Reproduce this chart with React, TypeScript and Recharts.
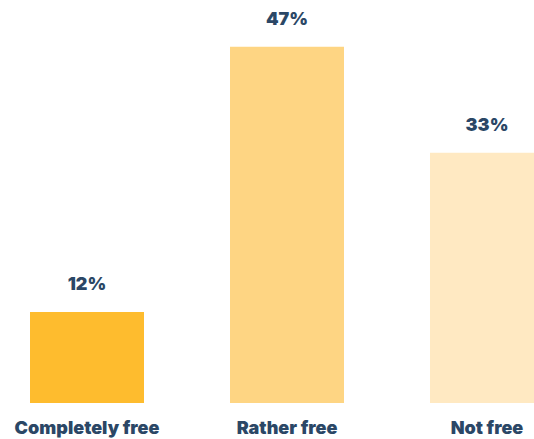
import { BarChart, Bar, XAxis, YAxis, Cell, LabelList } from "recharts"

const categories = ["Completely free", "Rather free", "Not free"]
const shares = [12, 47, 33]
const barColors = ["#FEBC2E", "#FED583", "#FFE9C2"]

const chartData = categories.map((name, i) => ({ name, value: shares[i] }))

const textColor = "#2B4766"
const fontFamily = "Inter, Lato, sans-serif"

const App = () => {
    return (
        <div
            style={{
                position: "absolute",
                left: 0,
                top: 0,
                width: 534,
                height: 439,
                overflow: "hidden",
                background: "#fff",
            }}
        >
            <div style={{ position: "absolute", left: -13, top: 0 }}>
                <BarChart
                    width={600}
                    height={439}
                    data={chartData}
                    margin={{ top: 24, right: 0, left: 0, bottom: 0 }}
                >
                    <XAxis
                        dataKey="name"
                        height={36}
                        axisLine={false}
                        tickLine={false}
                        tickMargin={12}
                        interval={0}
                        tick={{
                            fill: textColor,
                            fontSize: 18,
                            fontWeight: 900,
                            fontFamily,
                        }}
                    />
                    <YAxis hide domain={[0, 50]} />
                    <Bar dataKey="value" barSize={114} isAnimationActive={false}>
                        {chartData.map((d, i) => (
                            <Cell key={d.name} fill={barColors[i]} />
                        ))}
                        <LabelList
                            dataKey="value"
                            position="top"
                            offset={22}
                            formatter={(v: any) => `${v}%`}
                            style={{
                                fill: textColor,
                                fontSize: 18,
                                fontWeight: 900,
                                fontFamily,
                            }}
                        />
                    </Bar>
                </BarChart>
            </div>
        </div>
    )
}

export default App
